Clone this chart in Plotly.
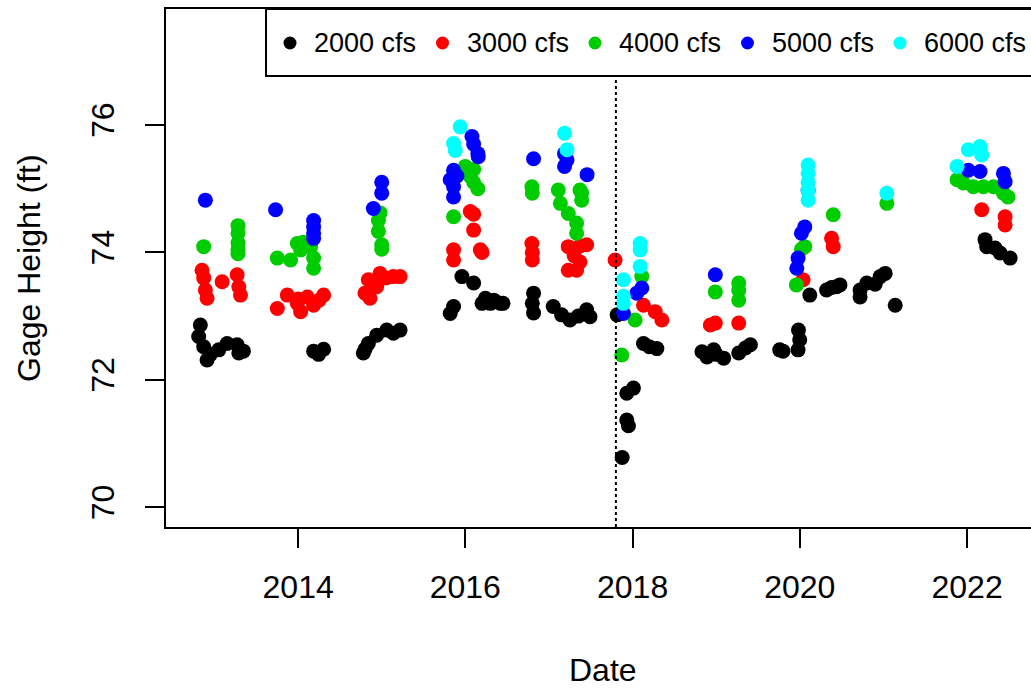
import datetime as dt
import plotly.graph_objects as go

# Flow classes and their point colours
flows = ["2000 cfs", "3000 cfs", "4000 cfs", "5000 cfs", "6000 cfs"]
colors = ["#000000", "#FF0000", "#00CD00", "#0000FF", "#00FFFF"]

# Survey dates (decimal years) and gage heights (ft) for each flow class
t_2000 = [2012.81, 2012.83, 2012.87, 2012.91, 2012.95, 2013.05, 2013.15, 2013.27, 2013.29, 2013.345,
          2014.185, 2014.245, 2014.305,
          2014.78, 2014.80, 2014.84, 2014.94, 2015.06, 2015.14, 2015.22,
          2015.82, 2015.86, 2015.96, 2016.10, 2016.20, 2016.24, 2016.30, 2016.34, 2016.36, 2016.42, 2016.45,
          2016.80, 2016.815, 2016.815, 2017.05, 2017.15, 2017.25, 2017.35, 2017.45, 2017.49, 2017.815,
          2017.875, 2017.93, 2017.95, 2017.93, 2018.01, 2018.13, 2018.20, 2018.29,
          2018.83, 2018.89, 2018.97, 2019.00, 2019.09, 2019.27, 2019.35, 2019.41, 2019.76,
          2019.80, 2019.98, 2019.985, 2020.00, 2020.12, 2020.32, 2020.38, 2020.44, 2020.48, 2020.72,
          2020.72, 2020.80, 2020.90, 2020.96, 2021.02, 2021.14,
          2022.215, 2022.235, 2022.335, 2022.395, 2022.515]
h_2000 = [72.68, 72.86, 72.52, 72.31, 72.40, 72.47, 72.57, 72.55, 72.42, 72.45,
          72.45, 72.40, 72.48,
          72.42, 72.48, 72.57, 72.70, 72.78, 72.73, 72.78,
          73.04, 73.15, 73.62, 73.52, 73.20, 73.28, 73.20, 73.25, 73.23, 73.20, 73.20,
          73.20, 73.36, 73.05, 73.15, 73.02, 72.94, 73.00, 73.10, 72.99, 73.02,
          70.78, 71.37, 71.28, 71.79, 71.87, 72.57, 72.52, 72.49,
          72.44, 72.36, 72.47, 72.40, 72.34, 72.42, 72.50, 72.55, 72.47,
          72.45, 72.47, 72.78, 72.63, 73.33, 73.41, 73.45, 73.46, 73.49, 73.41,
          73.30, 73.52, 73.50, 73.62, 73.67, 73.17,
          74.20, 74.09, 74.07, 73.99, 73.91]

t_3000 = [2012.85, 2012.87, 2012.89, 2012.91, 2013.09, 2013.27, 2013.29, 2013.31,
          2013.75, 2013.87, 2013.99, 2014.00, 2014.03, 2014.11, 2014.185, 2014.25, 2014.305,
          2014.80, 2014.84, 2014.86, 2014.94, 2014.98, 2015.05, 2015.14, 2015.22,
          2015.86, 2015.86, 2016.06, 2016.10, 2016.10, 2016.18, 2016.20,
          2016.795, 2016.80, 2016.80, 2017.23, 2017.23, 2017.30, 2017.33, 2017.37, 2017.37, 2017.45, 2017.79,
          2018.13, 2018.27, 2018.35,
          2018.93, 2018.99, 2019.27,
          2020.04, 2020.38, 2020.40,
          2022.175, 2022.455, 2022.455]
h_3000 = [73.72, 73.60, 73.41, 73.28, 73.54, 73.65, 73.46, 73.33,
          73.12, 73.33, 73.20, 73.27, 73.07, 73.30, 73.17, 73.25, 73.33,
          73.36, 73.57, 73.28, 73.46, 73.67, 73.60, 73.62, 73.62,
          74.04, 73.88, 74.64, 74.35, 74.60, 74.04, 74.00,
          74.14, 74.00, 73.88, 74.09, 73.72, 73.95, 73.72, 74.10, 73.85, 74.12, 73.88,
          73.17, 73.07, 72.94,
          72.86, 72.89, 72.89,
          73.57, 74.22, 74.09,
          74.67, 74.56, 74.43]

t_4000 = [2012.87, 2013.28, 2013.28, 2013.28, 2013.28, 2013.28,
          2013.75, 2013.91, 2013.99, 2014.03, 2014.06, 2014.15, 2014.185, 2014.185,
          2014.96, 2014.96, 2014.98, 2015.00, 2015.00,
          2015.86, 2016.00, 2016.06, 2016.10, 2016.10, 2016.15,
          2016.795, 2016.80, 2017.11, 2017.135, 2017.23, 2017.33, 2017.33, 2017.37, 2017.39, 2017.39,
          2017.87, 2018.03, 2018.11,
          2018.99, 2019.27, 2019.27, 2019.27,
          2019.96, 2020.02, 2020.06, 2020.40, 2021.04,
          2021.88, 2021.955, 2022.075, 2022.195, 2022.315, 2022.435, 2022.49]
h_4000 = [74.09, 74.42, 74.30, 74.15, 74.05, 73.98,
          73.91, 73.88, 74.14, 74.04, 74.16, 74.09, 73.91, 73.75,
          74.33, 74.50, 74.62, 74.12, 74.05,
          74.56, 75.35, 75.19, 75.30, 75.10, 75.00,
          75.03, 74.93, 74.98, 74.77, 74.61, 74.46, 74.30, 74.98, 74.93, 74.82,
          72.39, 72.94, 73.62,
          73.38, 73.52, 73.40, 73.25,
          73.49, 74.05, 74.09, 74.59, 74.77,
          75.14, 75.09, 75.03, 75.03, 75.03, 74.93, 74.87]

t_5000 = [2012.89,
          2013.73, 2014.185, 2014.185, 2014.185, 2014.185,
          2014.90, 2015.00, 2015.00,
          2015.82, 2015.86, 2015.86, 2015.86, 2015.90, 2016.08, 2016.10, 2016.15, 2016.155,
          2016.815, 2017.185, 2017.185, 2017.215, 2017.455,
          2017.89, 2018.05, 2018.11,
          2018.99,
          2019.965, 2019.98, 2020.02, 2020.06, 2020.10,
          2022.015, 2022.155, 2022.435, 2022.455]
h_5000 = [74.82,
          74.67, 74.50, 74.40, 74.30, 74.22,
          74.69, 75.10, 74.93,
          75.14, 75.29, 75.03, 74.87, 75.20, 75.82, 75.70, 75.55, 75.50,
          75.47, 75.55, 75.35, 75.45, 75.22,
          73.04, 73.36, 73.44,
          73.65,
          73.75, 73.91, 74.30, 74.40, 74.97,
          75.29, 75.27, 75.24, 75.11]

t_6000 = [2015.86, 2015.88, 2015.94,
          2017.185, 2017.215,
          2017.89, 2017.89, 2017.89, 2018.09, 2018.09, 2018.09,
          2020.10, 2020.10, 2020.10, 2020.10, 2020.10, 2021.04,
          2021.88, 2022.015, 2022.155, 2022.175]
h_6000 = [75.71, 75.60, 75.97,
          75.87, 75.61,
          73.57, 73.31, 73.20, 74.14, 74.04, 73.78,
          75.37, 75.24, 75.10, 74.97, 74.82, 74.93,
          75.35, 75.61, 75.66, 75.53]

# Axis settings
x_ticks = [2014, 2016, 2018, 2020, 2022]
x_limits = [2012.42, 2022.765]
y_ticks = [70, 72, 74, 76]
y_limits = [69.69, 77.82]
event_date = 2017.80  # dotted reference line

FONT = "Liberation Sans, Arial, sans-serif"


def to_date(y):
    year = int(y)
    start = dt.datetime(year, 1, 1)
    days = (dt.datetime(year + 1, 1, 1) - start).days
    return start + dt.timedelta(days=(y - year) * days)


series = [(t_2000, h_2000), (t_3000, h_3000), (t_4000, h_4000),
          (t_5000, h_5000), (t_6000, h_6000)]

fig = go.Figure()
for name, color, (t, h) in zip(flows, colors, series):
    fig.add_trace(go.Scatter(
        x=[to_date(v) for v in t], y=h, mode="markers", name=name,
        marker=dict(color=color, size=15, line=dict(width=0)),
        showlegend=False,
    ))

W, H = 1031, 689
ML, MR, MT, MB = 166, 0, 9, 162
PW, PH = W - ML - MR, H - MT - MB


def px_x(px):
    return (px - ML) / PW


def px_y(py):
    return (H - MB - py) / PH


shapes = [
    dict(type="line", xref="x", yref="paper",
         x0=to_date(event_date), x1=to_date(event_date), y0=0, y1=1,
         line=dict(color="black", width=2, dash="3px,3px"), layer="above"),
    # legend box
    dict(type="rect", xref="paper", yref="paper",
         x0=px_x(266), x1=1.2, y0=px_y(76), y1=1,
         fillcolor="white", line=dict(color="black", width=2), layer="above"),
]
annotations = []
leg_y = px_y(43)
for i, (name, color) in enumerate(zip(flows, colors)):
    cx = px_x(290 + 152.5 * i)
    shapes.append(dict(type="circle", xref="paper", yref="paper",
                       xsizemode="pixel", ysizemode="pixel",
                       xanchor=cx, yanchor=leg_y, x0=-6.5, x1=6.5, y0=-6.5, y1=6.5,
                       fillcolor=color, line=dict(width=0), layer="above"))
    annotations.append(dict(xref="paper", yref="paper", x=px_x(312 + 152.5 * i), y=leg_y,
                            xanchor="left", yanchor="middle", showarrow=False,
                            text=name, font=dict(size=27, color="black", family=FONT)))

annotations.append(dict(xref="paper", yref="paper", x=px_x(603), y=px_y(670),
                        xanchor="center", yanchor="middle", showarrow=False,
                        text="Date", font=dict(size=32, color="black", family=FONT)))
annotations.append(dict(xref="paper", yref="paper", x=px_x(29), y=0.5,
                        xanchor="center", yanchor="middle", showarrow=False, textangle=-90,
                        text="Gage Height (ft)", font=dict(size=32, color="black", family=FONT)))

fig.update_layout(
    width=W, height=H,
    margin=dict(l=ML, r=MR, t=MT, b=MB, pad=0),
    paper_bgcolor="white", plot_bgcolor="white",
    font=dict(family=FONT, color="black", size=32),
    shapes=shapes, annotations=annotations,
    xaxis=dict(
        type="date", range=[to_date(x_limits[0]), to_date(x_limits[1])],
        tickvals=[dt.datetime(y, 1, 1) for y in x_ticks], ticktext=[str(y) for y in x_ticks],
        showgrid=False, zeroline=False, showline=True, linecolor="black", linewidth=2,
        mirror=True, ticks="outside", ticklen=19, tickwidth=2, tickcolor="black",
        tickfont=dict(size=32), ticklabelstandoff=12,
    ),
    yaxis=dict(
        range=y_limits, tickvals=y_ticks, ticktext=[str(v) for v in y_ticks],
        showgrid=False, zeroline=False, showline=True, linecolor="black", linewidth=2,
        mirror=False, ticks="outside", ticklen=19, tickwidth=2, tickcolor="black",
        tickfont=dict(size=32), tickangle=-90, ticklabelstandoff=18,
    ),
)

fig.write_html("out.html")
